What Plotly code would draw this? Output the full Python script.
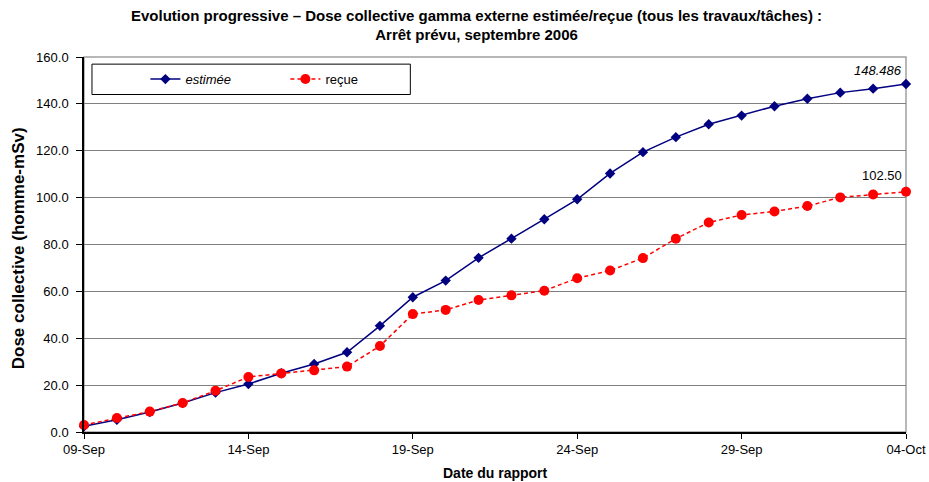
import plotly.graph_objects as go
import pandas as pd

dates = pd.date_range("2006-09-09", "2006-10-04", freq="D").strftime("%Y-%m-%d").tolist()
estimee = [2.4, 5.2, 8.5, 12.4, 16.8, 20.5, 25.1, 29.0, 34.0, 45.3, 57.5,
           64.6, 74.3, 82.5, 90.8, 99.3, 110.3, 119.4, 125.8, 131.3, 135.0,
           139.0, 142.2, 144.8, 146.5, 148.486]
recue = [3.0, 6.0, 8.7, 12.4, 17.6, 23.5, 25.0, 26.3, 27.9, 36.7, 50.3,
         52.1, 56.3, 58.3, 60.3, 65.6, 68.9, 74.2, 82.5, 89.4, 92.6,
         94.1, 96.4, 100.1, 101.3, 102.50]
tick_dates = ["2006-09-09", "2006-09-14", "2006-09-19", "2006-09-24", "2006-09-29", "2006-10-04"]
y_ticks = [0, 20, 40, 60, 80, 100, 120, 140, 160]

FONT = "Liberation Sans, Arial, sans-serif"

fig = go.Figure()
fig.add_trace(go.Scatter(
    x=dates, y=estimee, name="<i>estimée</i>", mode="lines+markers",
    line=dict(color="#000080", width=1.5),
    marker=dict(symbol="diamond", size=8, color="#000080"),
    cliponaxis=False))
fig.add_trace(go.Scatter(
    x=dates, y=recue, name="reçue", mode="lines+markers",
    line=dict(color="#FF0000", width=1.5, dash="4px,3px"),
    marker=dict(symbol="circle", size=10, color="#FF0000"),
    cliponaxis=False))

fig.update_layout(
    width=929, height=482,
    margin=dict(l=84, r=23, t=57, b=50, autoexpand=False),
    paper_bgcolor="white", plot_bgcolor="white",
    font=dict(family=FONT, size=13, color="black"),
    title=dict(
        text="<b>Evolution progressive – Dose collective gamma externe estimée/reçue (tous les travaux/tâches) :<br>Arrêt prévu, septembre 2006</b>",
        x=0.513, xanchor="center", yref="container", y=0.957, yanchor="top",
        font=dict(family=FONT, size=15)),
    showlegend=True,
    legend=dict(orientation="h", x=0.0747, xanchor="left", y=0.981, yanchor="top",
                bgcolor="rgba(0,0,0,0)", borderwidth=0,
                font=dict(family=FONT, size=13), itemwidth=30,
                entrywidth=95, tracegroupgap=0),
    xaxis=dict(type="date", range=["2006-09-09", "2006-10-04"],
               tickvals=tick_dates, tickformat="%d-%b",
               ticks="outside", ticklen=5, tickcolor="black",
               showline=True, linecolor="black", linewidth=1.5,
               showgrid=False, zeroline=False, automargin=False,
               tickfont=dict(size=13)),
    yaxis=dict(range=[0, 160], tickvals=y_ticks, tickformat=".1f",
               ticks="outside", ticklen=6, tickcolor="black",
               showline=True, linecolor="black", linewidth=1.5,
               showgrid=True, gridcolor="#808080", gridwidth=1.2,
               zeroline=False, automargin=False, ticklabelstandoff=5,
               tickfont=dict(size=13)),
    shapes=[
        dict(type="rect", xref="paper", yref="paper", x0=0, x1=1, y0=0, y1=1,
             line=dict(color="#A0A0A0", width=1.5), layer="below"),
        dict(type="rect", xref="paper", yref="paper", x0=0.0097, x1=0.397,
             y0=0.9, y1=0.981, line=dict(color="black", width=1), layer="above"),
    ],
    annotations=[
        dict(x=dates[-1], y=estimee[-1], text="<i>148.486</i>", showarrow=False,
             xanchor="right", yanchor="bottom", xshift=-2, yshift=4,
             font=dict(size=13)),
        dict(x=dates[-1], y=recue[-1], text="102.50", showarrow=False,
             xanchor="right", yanchor="bottom", xshift=-2, yshift=7,
             font=dict(size=13)),
        dict(xref="paper", yref="paper", x=(18 - 84) / 822, y=0.49,
             text="<b>Dose collective (homme-mSv)</b>", textangle=-90,
             showarrow=False, xanchor="center", yanchor="middle",
             font=dict(size=17)),
        dict(xref="paper", yref="paper", x=0.5, y=(432 - 473) / 375,
             text="<b>Date du rapport</b>", showarrow=False,
             xanchor="center", yanchor="middle", font=dict(size=14)),
    ],
)

fig.write_html("out.html", config={"displayModeBar": False},
               post_script="document.body.style.margin='0px';")
